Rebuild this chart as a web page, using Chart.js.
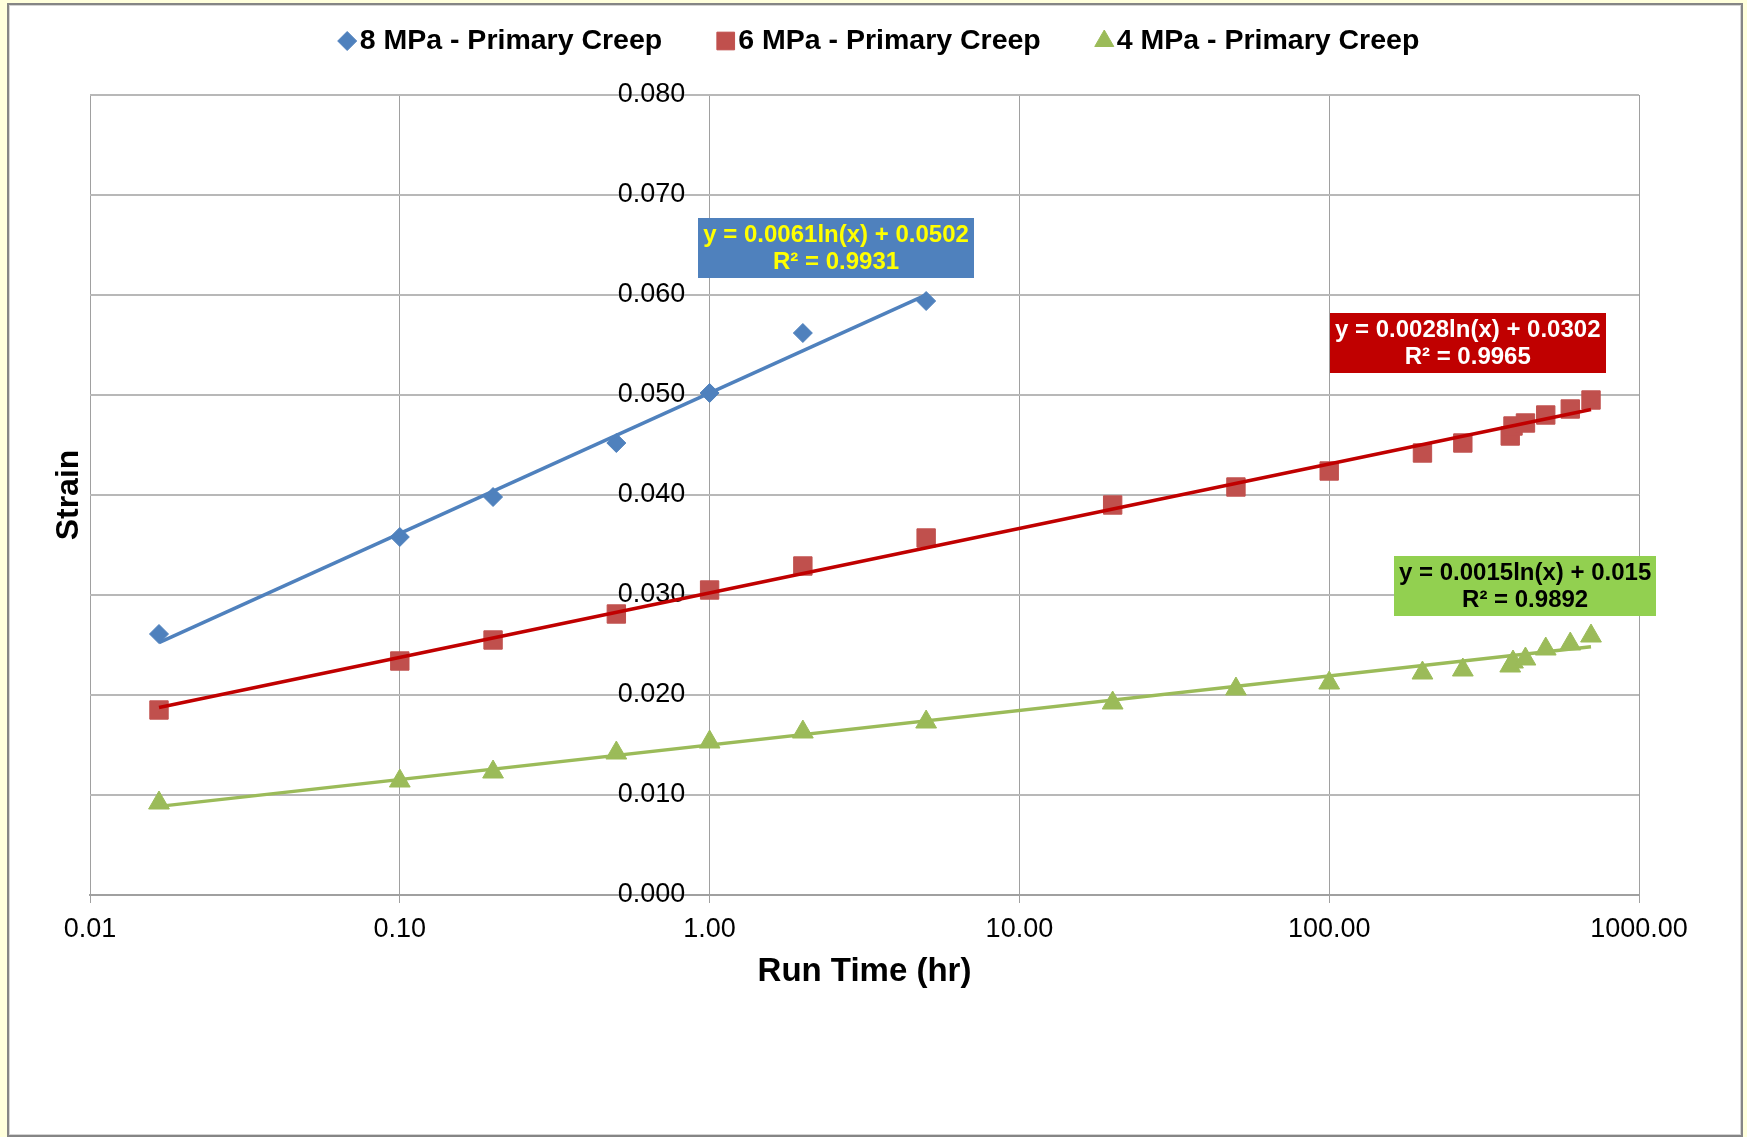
<!DOCTYPE html>
<html>
<head>
<meta charset="utf-8">
<title>Primary Creep</title>
<script src="https://cdn.jsdelivr.net/npm/chart.js@4.4.0/dist/chart.umd.min.js"></script>
<style>
  html, body { margin: 0; padding: 0; overflow: hidden; background: #ffffdc; }
  #frame {
    position: absolute; left: 7px; top: 3px; width: 1736px; height: 1134px;
    box-sizing: border-box; border: 2px solid #858585; background: #fff;
    box-shadow: inset 0 0 0 1px #d4d4d4;
  }
  #wrap { position: absolute; left: 0; top: 0; width: 1747px; height: 1137px; }
</style>
</head>
<body>
<div id="frame"></div>
<div id="wrap"><canvas id="creepChart"></canvas></div>
<script>
// run time (hr) of each reading
const runTime = [0.0167, 0.1, 0.2, 0.5, 1, 2, 5, 20, 50, 100, 200, 270, 384, 392, 430, 500, 600, 700];

// strain readings (8 MPa test stops at 5 hr)
const strain8MPa = [0.0261, 0.0358, 0.0398, 0.0452, 0.0502, 0.0562, 0.0594];
const strain6MPa = [0.0185, 0.0234, 0.0255, 0.0281, 0.0305, 0.0329, 0.0357, 0.0390, 0.0408, 0.0424, 0.0442, 0.0452, 0.0459, 0.0469, 0.0472, 0.0480, 0.0486, 0.0495];
const strain4MPa = [0.0092, 0.0114, 0.0123, 0.0142, 0.0153, 0.0163, 0.0173, 0.0192, 0.0206, 0.0212, 0.0222, 0.0225, 0.0229, 0.0233, 0.0236, 0.0246, 0.0251, 0.0259];

// log trendlines  y = a ln(x) + b
const trendA = [0.0061, 0.0028, 0.0015];
const trendB = [0.0502, 0.0302, 0.015];
const trendR2 = ['0.9931', '0.9965', '0.9892'];

const xTickValues = [0.01, 0.1, 1, 10, 100, 1000];
const xTickLabels = ['0.01', '0.10', '1.00', '10.00', '100.00', '1000.00'];
const yTickValues = [0, 0.01, 0.02, 0.03, 0.04, 0.05, 0.06, 0.07, 0.08];

const seriesNames = ['8 MPa - Primary Creep', '6 MPa - Primary Creep', '4 MPa - Primary Creep'];
const seriesStrain = [strain8MPa, strain6MPa, strain4MPa];

const FONT = '"Liberation Sans", Arial, sans-serif';
Chart.defaults.font.family = FONT;
Chart.defaults.color = '#000';

const markerStyle = [
  { pointStyle: 'rectRot', radius: 9.5, legendRadius: 9.5, color: '#4F81BD', line: '#4F81BD' },
  { pointStyle: 'rect', radius: 13, legendRadius: 12.5, color: '#C0504D', line: '#C00000' },
  { pointStyle: 'triangle', radius: 12, legendRadius: 11, color: '#9BBB59', line: '#9BBB59' }
];

// equation boxes: anchor (data coords) and colours
const eqBoxes = [
  { at: [2.56, 0.0647], bg: '#4F81BD', fg: '#FFFF00' },
  { at: [280, 0.0552], bg: '#C00000', fg: '#FFFFFF' },
  { at: [429, 0.0309], bg: '#92D050', fg: '#000000' }
];

const datasets = [];
seriesStrain.forEach((vals, s) => {
  const pts = vals.map((v, i) => ({ x: runTime[i], y: v }));
  const m = markerStyle[s];
  datasets.push({
    label: seriesNames[s],
    data: pts,
    pointStyle: m.pointStyle,
    pointRadius: m.radius,
    pointHoverRadius: m.radius,
    backgroundColor: m.color,
    borderColor: m.color,
    borderWidth: 1,
    legendRadius: m.legendRadius,
    showInLegend: true,
    order: 2
  });
  // trendline from first to last reading
  const ends = [pts[0].x, pts[pts.length - 1].x];
  datasets.push({
    label: seriesNames[s] + ' trend',
    data: ends.map(t => ({ x: t, y: trendA[s] * Math.log(t) + trendB[s] })),
    showLine: true,
    pointRadius: 0,
    borderColor: m.line,
    backgroundColor: m.line,
    borderWidth: 3.5,
    order: 1
  });
});

const topLegend = {
  id: 'topLegend',
  afterDraw(chart) {
    const ctx = chart.ctx;
    const items = chart.data.datasets.filter(d => d.showInLegend);
    const markW = 19, markGap = 3, itemGap = 54, y = 41;
    ctx.save();
    ctx.font = 'bold 28.5px ' + FONT;
    const widths = items.map(d => markW + markGap + ctx.measureText(d.label).width);
    const total = widths.reduce((a, b) => a + b, 0) + itemGap * (items.length - 1);
    let x = chart.width / 2 + 5 - total / 2;
    items.forEach((d, i) => {
      ctx.fillStyle = d.backgroundColor;
      ctx.strokeStyle = d.borderColor;
      ctx.lineWidth = 1;
      Chart.helpers.drawPoint(ctx, { pointStyle: d.pointStyle, radius: d.legendRadius, rotation: 0, borderWidth: 1 }, x + markW / 2, y);
      ctx.fillStyle = '#000';
      ctx.textAlign = 'left';
      ctx.textBaseline = 'middle';
      ctx.fillText(d.label, x + markW + markGap, y);
      x += widths[i] + itemGap;
    });
    ctx.restore();
  }
};

const trendLabels = {
  id: 'trendLabels',
  afterDraw(chart) {
    const { ctx, scales } = chart;
    ctx.save();
    ctx.font = 'bold 24px ' + FONT;
    ctx.textAlign = 'center';
    ctx.textBaseline = 'middle';
    eqBoxes.forEach((b, s) => {
      const lines = ['y = ' + trendA[s] + 'ln(x) + ' + trendB[s], 'R² = ' + trendR2[s]];
      const cx = scales.x.getPixelForValue(b.at[0]);
      const cy = scales.y.getPixelForValue(b.at[1]);
      const w = Math.max(...lines.map(t => ctx.measureText(t).width)) + 10;
      const h = 60;
      ctx.fillStyle = b.bg;
      ctx.fillRect(Math.round(cx - w / 2), Math.round(cy - h / 2), Math.round(w), h);
      ctx.fillStyle = b.fg;
      ctx.fillText(lines[0], cx, cy - 13);
      ctx.fillText(lines[1], cx, cy + 14);
    });
    ctx.restore();
  }
};

const ctx = document.getElementById('creepChart').getContext('2d');
new Chart(ctx, {
  type: 'scatter',
  data: { datasets: datasets },
  plugins: [topLegend, trendLabels],
  options: {
    responsive: true,
    maintainAspectRatio: false,
    animation: false,
    devicePixelRatio: 1,
    layout: { padding: { top: 95, left: 0, right: 108, bottom: 0 } },
    plugins: { legend: { display: false }, tooltip: { enabled: false } },
    scales: {
      x: {
        type: 'logarithmic',
        min: 0.01,
        max: 1000,
        afterBuildTicks: s => { s.ticks = xTickValues.map(v => ({ value: v })); },
        afterFit: s => { s.height = 242; },
        ticks: {
          callback: (v, i) => xTickLabels[i],
          font: { size: 27 },
          color: '#000',
          padding: 10,
          maxRotation: 0,
          autoSkip: false
        },
        grid: { color: '#a0a0a0', lineWidth: 1, tickLength: 8 },
        border: { color: '#a0a0a0', width: 2 },
        title: {
          display: true,
          text: 'Run Time (hr)',
          font: { size: 33, weight: 'bold' },
          color: '#000',
          padding: { top: 0, bottom: 145 }
        }
      },
      y: {
        position: 'left',
        min: 0,
        max: 0.08,
        afterBuildTicks: s => { s.ticks = yTickValues.map(v => ({ value: v })); },
        afterFit: s => { s.width = 90; },
        ticks: { display: false },
        grid: { color: '#b8b8b8', lineWidth: 2, drawTicks: false },
        border: { display: false },
        title: {
          display: true,
          text: 'Strain',
          font: { size: 32, weight: 'bold' },
          color: '#000',
          padding: { top: 50, bottom: 0 }
        }
      },
      y2: {
        // value labels sit just left of the 1.00 gridline (the vertical axis crosses there)
        axis: 'y',
        position: { x: 0.835 },
        min: 0,
        max: 0.08,
        afterBuildTicks: s => { s.ticks = yTickValues.map(v => ({ value: v })); },
        ticks: {
          callback: v => v.toFixed(3),
          font: { size: 27 },
          color: '#000'
        },
        grid: { display: false },
        border: { display: false }
      }
    }
  }
});
</script>
</body>
</html>
